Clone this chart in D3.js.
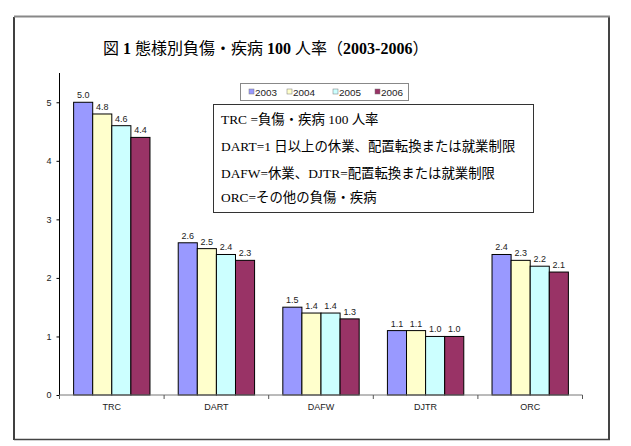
<!DOCTYPE html>
<html><head><meta charset="utf-8">
<script src="https://cdn.jsdelivr.net/npm/d3@7"></script>
<style>body{margin:0;background:#fff}</style>
</head><body><svg id="c" width="631" height="446"></svg>
<script>
const categories = ["TRC","DART","DAFW","DJTR","ORC"];
const years = ["2003","2004","2005","2006"];
const v2003 = [5.0,2.6,1.5,1.1,2.4];
const v2004 = [4.8,2.5,1.4,1.1,2.3];
const v2005 = [4.6,2.4,1.4,1.0,2.2];
const v2006 = [4.4,2.3,1.3,1.0,2.1];
const yTicks = [0,1,2,3,4,5];
const colors = ["#9999FF","#FFFFCC","#CCFFFF","#993366"];
const titleParts = [["図 ",0],["1",1],[" 態様別負傷・疾病 ",0],["100",1],[" 人率（",0],["2003-2006",1],["）",0]];
const notes = ["TRC =負傷・疾病 100 人率","DART=1 日以上の休業、配置転換または就業制限","DAFW=休業、DJTR=配置転換または就業制限","ORC=その他の負傷・疾病"];

const series = [v2003,v2004,v2005,v2006];
const svg = d3.select("#c");
const sans = "Arial, 'Liberation Sans', sans-serif";
const serif = "'Liberation Serif','Times New Roman','Noto Sans CJK JP',serif";

// outer frame
svg.append("line").attr("x1",14).attr("x2",14).attr("y1",17).attr("y2",440).attr("stroke","#000").attr("stroke-width",1.5);
svg.append("line").attr("x1",14).attr("x2",610).attr("y1",439.5).attr("y2",439.5).attr("stroke","#444").attr("stroke-width",1.5);
svg.append("line").attr("x1",609).attr("x2",609).attr("y1",16).attr("y2",440).attr("stroke","#444").attr("stroke-width",2);
svg.append("line").attr("x1",14).attr("x2",610).attr("y1",16.5).attr("y2",16.5).attr("stroke","#888").attr("stroke-width",2);

const tt = svg.append("text").attr("x",103).attr("y",54).attr("font-family",serif).attr("font-size",16).attr("fill","#000");
titleParts.forEach(p=>tt.append("tspan").attr("font-weight",p[1]?"bold":"normal").text(p[0]));

const x0 = d3.scaleBand().domain(categories).range([59.5,582.5]).paddingInner(0.27).paddingOuter(0.135);
const x1 = d3.scaleBand().domain(years).range([0,x0.bandwidth()]);
const y = d3.scaleLinear().domain([0,5.5]).range([395,73]);

const g = svg.append("g");
categories.forEach((c,i)=>{
  series.forEach((s,j)=>{
    g.append("rect").attr("x",x0(c)+x1(years[j])).attr("y",y(s[i])).attr("width",x1.bandwidth()).attr("height",y(0)-y(s[i]))
      .attr("fill",colors[j]).attr("stroke","#000").attr("stroke-width",1);
    g.append("text").attr("x",x0(c)+x1(years[j])+x1.bandwidth()/2).attr("y",y(s[i])-4)
      .attr("text-anchor","middle").attr("font-family",sans).attr("font-size",9).attr("fill","#222").text(s[i].toFixed(1));
  });
});

// y axis
const ya = svg.append("g").attr("transform","translate(59.5,0)").call(d3.axisLeft(y).tickValues(yTicks).tickSize(3).tickPadding(5).tickFormat(d3.format("d")));
ya.select(".domain").attr("d","M0,73V395").attr("stroke","#000");
ya.selectAll("text").attr("font-family",sans).attr("font-size",9).attr("fill","#222");
// x axis
const xa = svg.append("g").attr("transform","translate(0,395)").call(d3.axisBottom(x0).tickSize(0).tickPadding(9));
xa.select(".domain").attr("d","M59.5,0H582.5").attr("stroke","#777");
xa.selectAll("text").attr("font-family",sans).attr("font-size",9).attr("fill","#222");
const step = x0.step();
const bounds = d3.range(categories.length+1).map(k=>59.5+k*step);
svg.append("g").selectAll("line").data(bounds).join("line").attr("x1",d=>d).attr("x2",d=>d).attr("y1",395).attr("y2",399).attr("stroke","#555");

// legend
svg.append("rect").attr("x",240.5).attr("y",83.5).attr("width",168).attr("height",17).attr("fill","#fff").attr("stroke","#888");
const lx = [249,287,333,375];
years.forEach((yr,j)=>{
  svg.append("rect").attr("x",lx[j]).attr("y",89).attr("width",5).attr("height",5).attr("fill",colors[j]).attr("stroke","#777").attr("stroke-width",0.5);
  svg.append("text").attr("x",lx[j]+6).attr("y",95.5).attr("font-family",sans).attr("font-size",9.5).attr("fill","#222").attr("textLength",22).attr("lengthAdjust","spacingAndGlyphs").text(yr);
});
// note box
svg.append("rect").attr("x",213.5).attr("y",104.5).attr("width",320).attr("height",108).attr("fill","#fff").attr("stroke","#333");
const ly = [124,151,178,202];
notes.forEach((t,i)=>{
  svg.append("text").attr("x",221).attr("y",ly[i]).attr("font-family",serif).attr("font-size",13.4).attr("fill","#000").text(t);
});
</script></body></html>
